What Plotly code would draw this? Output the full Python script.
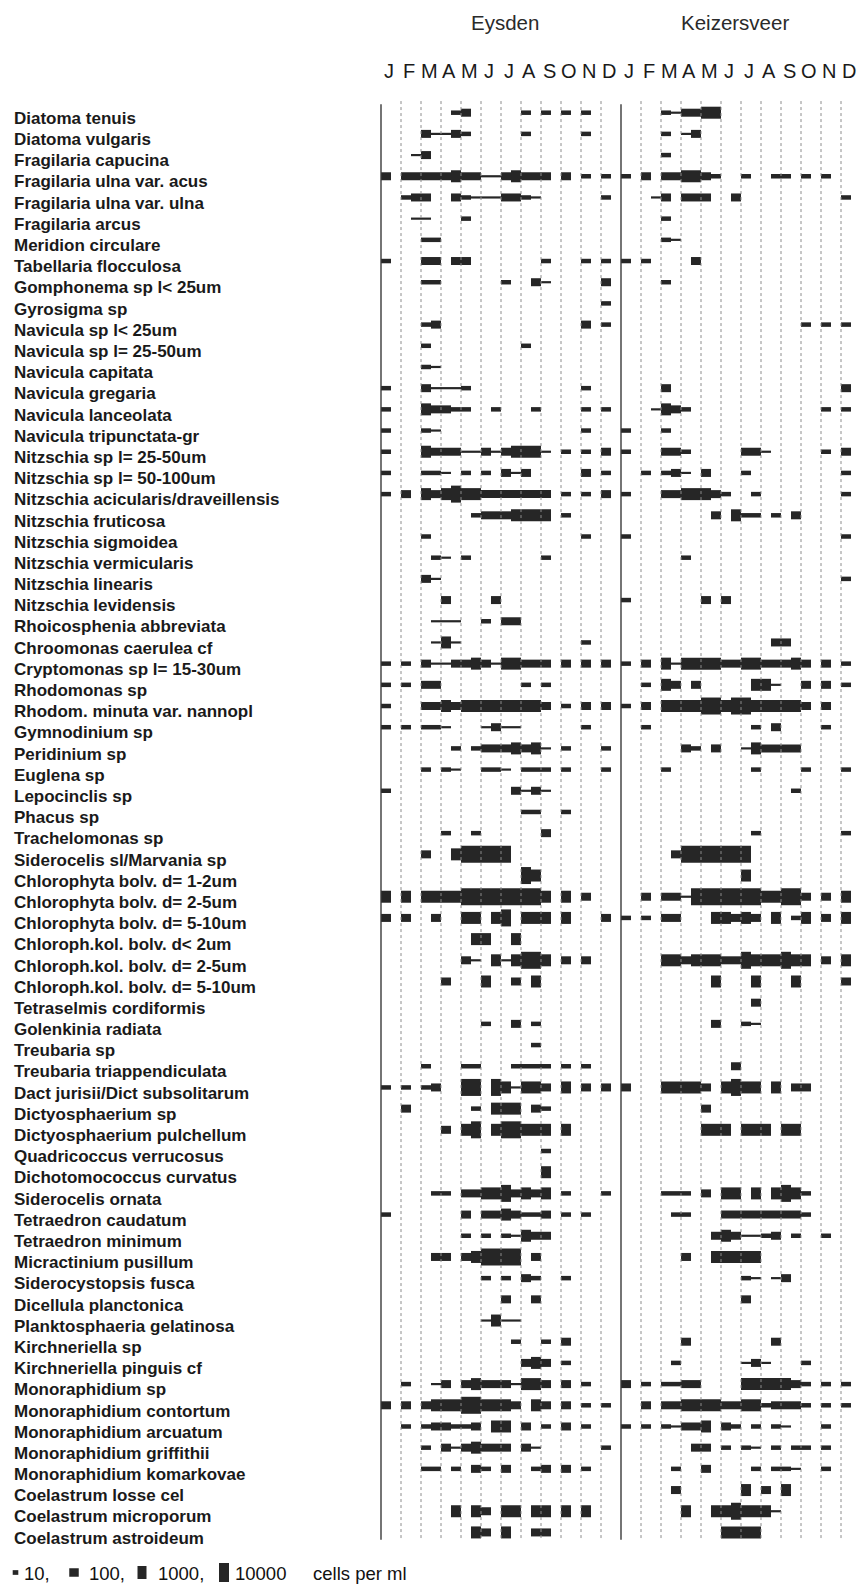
import plotly.graph_objects as go

# ---------------- data ----------------
SPECIES = [
    "Diatoma tenuis", "Diatoma vulgaris", "Fragilaria capucina", "Fragilaria ulna var. acus",
    "Fragilaria ulna var. ulna", "Fragilaria arcus", "Meridion circulare", "Tabellaria flocculosa",
    "Gomphonema sp l< 25um", "Gyrosigma sp", "Navicula sp l< 25um", "Navicula sp l= 25-50um",
    "Navicula capitata", "Navicula gregaria", "Navicula lanceolata", "Navicula tripunctata-gr",
    "Nitzschia sp l= 25-50um", "Nitzschia sp l= 50-100um", "Nitzschia acicularis/draveillensis",
    "Nitzschia fruticosa", "Nitzschia sigmoidea", "Nitzschia vermicularis", "Nitzschia linearis",
    "Nitzschia levidensis", "Rhoicosphenia abbreviata", "Chroomonas caerulea cf",
    "Cryptomonas sp l= 15-30um", "Rhodomonas sp", "Rhodom. minuta var. nannopl", "Gymnodinium sp",
    "Peridinium sp", "Euglena sp", "Lepocinclis sp", "Phacus sp", "Trachelomonas sp",
    "Siderocelis sl/Marvania sp", "Chlorophyta bolv. d= 1-2um", "Chlorophyta bolv. d= 2-5um",
    "Chlorophyta bolv. d= 5-10um", "Chloroph.kol. bolv. d< 2um", "Chloroph.kol. bolv. d= 2-5um",
    "Chloroph.kol. bolv. d= 5-10um", "Tetraselmis cordiformis", "Golenkinia radiata", "Treubaria sp",
    "Treubaria triappendiculata", "Dact jurisii/Dict subsolitarum", "Dictyosphaerium sp",
    "Dictyosphaerium pulchellum", "Quadricoccus verrucosus", "Dichotomococcus curvatus",
    "Siderocelis ornata", "Tetraedron caudatum", "Tetraedron minimum", "Micractinium pusillum",
    "Siderocystopsis fusca", "Dicellula planctonica", "Planktosphaeria gelatinosa", "Kirchneriella sp",
    "Kirchneriella pinguis cf", "Monoraphidium sp", "Monoraphidium contortum", "Monoraphidium arcuatum",
    "Monoraphidium griffithii", "Monoraphidium komarkovae", "Coelastrum losse cel",
    "Coelastrum microporum", "Coelastrum astroideum",
]
STATIONS = ["Eysden", "Keizersveer"]
MONTHS = ["J", "F", "M", "A", "M", "J", "J", "A", "S", "O", "N", "D"]
CLASS_LABELS = ["10", "100", "1000", "10000"]
UNIT_LABEL = "cells per ml"

# abundance class per half month (two characters per month, Jan..Dec)
# '.' absent, '-' trace, '1' ~10, '2' ~100, '3' ~1000, '4' ~10000 cells per ml
EYSDEN = [
    ".. .. .. .1 2. .. .. 1. 1. 1. 1. ..",
    ".. .. 2- -2 1. .. .. 1. .. .. 1. ..",
    ".. .- 2. .. .. .. .. .. .. .. .. ..",
    "2. 22 22 23 22 -- 23 22 2. 2. 1. 1.",
    ".. 12 2. .2 1- -- 22 1- .. .. .. 1.",
    ".. .- -. .. 1. .. .. .. .. .. .. ..",
    ".. .. 11 .. .. .. .. .. .. .. .. ..",
    "1. .. 22 .2 2. .. .. .. 1. .. 1. 1.",
    ".. .. 11 .. .. .. 1. .2 -. .. .. 2.",
    ".. .. .. .. .. .. .. .. .. .. .. 1.",
    ".. .. 12 .. .. .. .. .. .. .. 2. 1.",
    ".. .. 1. .. .. .. .. 1. .. .. .. ..",
    ".. .. 1- .. .. .. .. .. .. .. .. ..",
    "1. .. 2- -- 1. .. .. .. .. .. 1. ..",
    "1. .. 32 21 1. .1 .. .1 .. .. 1. 1.",
    "1. .. 1- .. .. .. .. .. .. .. 1. ..",
    "1. .. 32 22 -- 2- 23 33 -. 1. 1. 2.",
    "1. .. 11 -. 1. 1. 2- 2. .. .. 2. 1.",
    "1. 2. 32 34 33 22 22 22 2. 1. 1. 2.",
    ".. .. .. .. .1 22 23 33 3. 1. .. ..",
    ".. .. 1. .. .. .. .. .. .. .. 1. ..",
    ".. .. .1 -. 1. .. .. .. 1. .. .. ..",
    ".. .. 2- .. .. .. .. .. .. .. .. ..",
    ".. .. .. 2. .. .2 .. .. .. .. .. ..",
    ".. .. .- -- .. 1. 22 .. .. .. .. ..",
    ".. .. .- 3- .. .. .. .. .. .. 1. ..",
    "1. 1. 2- -2 23 2- 33 22 2. 2. 2. 2.",
    "1. 1. 22 .. .. .. .. 1. 1. .. .. ..",
    "1. .. 22 32 33 33 33 33 2. 1. 2. 2.",
    "1. 1. 11 -. .. -2 -- .. .. .. 1. ..",
    ".. .. .. .1 .1 22 23 23 -. 1. .. 1.",
    ".. .. 1. 1- .. 11 -. 11 1. 1. .. 1.",
    "1. .. .. .. .. .. .2 -2 -. .. .. ..",
    ".. .. .. .. .. .. .. 11 .. 1. .. ..",
    ".. .. .. 1. .1 .. .. .. 2. .. .. ..",
    ".. .. 2. .3 44 44 4. .. .. .. .. ..",
    ".. .. .. .. .. .. .. 43 .. .. .. ..",
    "3. 3. 33 33 44 44 44 44 3. 3. 2. ..",
    "2. 2. .2 .. 33 .3 4. 33 3. 3. .. 2.",
    ".. .. .. .. .3 3. .3 .. .. .. .. ..",
    ".. .. .. .. 2- .3 -3 44 3. 2. 2. ..",
    ".. .. .. 2. .. 3. .2 .3 .. .. .. ..",
    ".. .. .. .. .. .. .. .. .. .. .. ..",
    ".. .. .. .. .. 1. .2 .1 .. .. .. ..",
    ".. .. .. .. .. .. .. .1 .. .. .. ..",
    ".. .. 1. .. 11 .. .1 11 1. 1. 1. ..",
    "1. 1. 12 .. 44 .4 3- 33 2. 3. 2. 2.",
    ".. 2. .. .. .1 .3 33 .2 1. .. .. ..",
    ".. .. .. 2. 34 .3 44 33 3. 3. .. ..",
    ".. .. .. .. .. .. .. .. 1. .. .. ..",
    ".. .. .. .. .. .. .. .. 3. .. .. ..",
    ".. .. .1 1. 22 33 42 32 3. 1. .. 1.",
    "1. .. .. .. 2. 22 32 11 2. 1. 1. ..",
    ".. .. .. .. 1. 1. 1- 32 2. .. .. ..",
    ".. .. .2 2. 23 44 44 .2 .. .. .. ..",
    ".. .. .. .. .. 1. 1. 21 .. 1. .. ..",
    ".. .. .. .. .. .. 2. .2 .. .. .. ..",
    ".. .. .. .. .. -3 -- .. .. .. .. ..",
    ".. .. .. .. .. .. .1 .. 1. 2. .. ..",
    ".. .. .. .. .. .. .. 23 2. 1. .. ..",
    ".. 1. .- 2. 23 22 2- 33 2. 2. 1. ..",
    "2. 2. 23 33 44 33 32 .3 2. 2. 1. 1.",
    ".. 1. 12 21 12 .3 3. 2. 1. 2. 1. ..",
    ".. .. 1. 2- 23 22 2. 2- .. .. .. 1.",
    ".. .. 11 .1 .2 1. 2. .1 2. 2. 1. ..",
    ".. .. .. .. .. .. .. .. .. .. .. ..",
    ".. .. .. .3 .3 2. 33 .3 3. 3. 3. ..",
    ".. .. .. .. .3 2. 3. .2 2. .. .. ..",
]
KEIZERSVEER = [
    ".. .. 1- 22 33 .. .. .. .. .. .. ..",
    ".. .. 1. -2 .. .. .. .. .. .. .. ..",
    ".. .. 1. .. .. .. .. .. .. .. .. ..",
    "1. 2. 22 33 21 .. 1. .1 1. 1. 1. ..",
    ".. .- 2. 22 2. .2 .. .. .. .. .. 1.",
    ".. .. 1. .. .. .. .. .. .. .. .. ..",
    ".. .. 1- .. .. .. .. .. .. .. .. ..",
    "1. 1. .. .2 .. .. .. .. .. .. .. ..",
    ".. .. 1. .. .. .. .. .. .. .. .. ..",
    ".. .. .. .. .. .. .. .. .. .. .. ..",
    ".. .. .. .. .. .. .. .. .. 1. 1. 1.",
    ".. .. .. .. .. .. .. .. .. .. .. ..",
    ".. .. .. .. .. .. .. .. .. .. .. ..",
    ".. .. 2. .. .. .. .. .. .. .. .. 2.",
    ".. .- 32 1. .. .. .. .. .. .. 1. 1.",
    "1. .. 1. .. .. .. .. .. .. .. .. ..",
    "1. .. 22 1. .. .. 22 -. .. .. 1. 2.",
    ".. 1. 12 -. 2. .. 1. .. .. .. .. 1.",
    "1. .. 22 33 32 1. .1 .. .. .. .. 1.",
    ".. .. .. .. .2 .3 11 .1 .2 .. .. ..",
    "1. .. .. .. .. .. .. .. .. .. .. 1.",
    ".. .. .. 1. .. .. .. .. .. .. .. ..",
    ".. .. .. .. .. .. .. .. .. .. .. 1.",
    "1. .. .. .. 2. 2. .. .. .. .. .. ..",
    ".. .. .. .. .. .. .. .. .. .. .. ..",
    ".. .. .. .. .. .. .. .2 2. .. .. ..",
    "1. 2. 3- 33 33 22 33 22 23 2. 2. 1.",
    ".. 1. 32 .2 .. .. .3 3- .. 2. 2. 1.",
    "1. 2. 33 33 44 34 43 33 33 2. 2. ..",
    ".. 1. .. .. .. .. .1 .2 .. .. 1. ..",
    ".. .. .. 21 .2 .. -3 22 22 .. .. ..",
    ".. .. 1. .. .. .. .1 .. .. 1. .. 1.",
    ".. .. .. .. .. .. .. .. .1 .. .. ..",
    ".. .. .. .. .. .. .. .. .. .. .. ..",
    ".. .. .. .. .. .. .1 .. .. .. .. 1.",
    ".. .. .2 44 44 44 4. .. .. .. .. ..",
    ".. .. .. .. .. .. 3. .. .. .. .. ..",
    ".. 2. 22 -4 44 44 44 33 44 2. 2. 3.",
    "1. 1. 22 .. .3 32 32 .3 .1 3. 2. 3.",
    ".. .. .. .. .. .. .. .. .. .. .. ..",
    ".. .. 33 23 33 22 43 33 43 3. 2. 3.",
    ".. .. .. .. .3 .. .3 .. .3 .. .. 2.",
    ".. .. .. .. .. .. .2 .. .. .. .. ..",
    ".. .. .. .. .2 .. 1- .. .. .. .. ..",
    ".. .. .. .. .. .. .. .. .. .. .. ..",
    ".. .. .. .. .. .2 .. .. .. .. .. ..",
    "2. .. 33 33 2. 34 33 .3 .2 2. .. ..",
    ".. .. .. .. 2. .. .. .. .. .. .. ..",
    ".. .. .. .. 33 3. 33 3. 33 .. .. ..",
    ".. .. .. .. .. .. .. .. .. .. .. ..",
    ".. .. .. .. .. .. .. .. .. .. .. ..",
    ".. .. 11 1. 2. 33 .3 .3 43 1. .. ..",
    ".. .. .1 1. .. 22 22 22 22 1. .. ..",
    ".. .. .. .. .2 32 -- 12 .1 .. 1. ..",
    ".. .. .. 2. .3 33 33 .. .. .. .. ..",
    ".. .. .. .. .. .. 1- .- 2. .. .. ..",
    ".. .. .. .. .. .. 2. .. .. .. .. ..",
    ".. .. .. .. .. .. .. .. .. .. .. ..",
    ".. .. .. 2. .. .. .. .2 .. .. .. ..",
    ".. .. .1 .. .. .. -2 -. .. 1. .. ..",
    "2. 1. 11 22 .. .. 33 33 32 1. 1. 1.",
    ".. 2. 22 33 33 22 33 12 22 1. 1. 1.",
    "1. 1. 1- 22 3. 21 .1 .1 -. .. 1. ..",
    ".. .. .. .2 2. 1. 1- .1 .1 1. 1. ..",
    ".. .. .1 .. 2. .. .1 .1 1- .. 1. ..",
    ".. .. .2 .. .. .. 3. 2. 3. .. .. ..",
    ".. .. .. 3. .3 34 33 3- .. .. .. ..",
    ".. .. .. .. .. 33 33 .. .. .. .. ..",
]

# ---------------- geometry / style ----------------
W, H = 861, 1585
PX_PER_MONTH = 20.0
X0_PX = 381.0          # pixel column of 1 January, first station
ROW0_PX = 112.7        # pixel row of first species
ROW_PX = 21.19         # pixels per species row
THICK_PX = {"-": 2.2, "1": 4.5, "2": 8.0, "3": 12.0, "4": 17.0}
LEGEND_THICK_PX = [4.7, 8.5, 13.0, 19.0]
INK = "#262626"


def px_to_x(px):
    return (px - X0_PX) / PX_PER_MONTH


def px_to_row(py):
    return (py - ROW0_PX) / ROW_PX


# ---------------- bars ----------------
base, length, ypos, thick = [], [], [], []
for s, table in enumerate([EYSDEN, KEIZERSVEER]):
    for i, code in enumerate(table):
        bins = code.replace(" ", "")
        k = 0
        while k < len(bins):
            c = bins[k]
            if c == ".":
                k += 1
                continue
            j = k
            while j + 1 < len(bins) and bins[j + 1] == c:
                j += 1
            base.append(12 * s + 0.5 * k)
            length.append(0.5 * (j - k + 1))
            ypos.append(i)
            thick.append(THICK_PX[c] / ROW_PX)
            k = j + 1

fig = go.Figure()
fig.add_trace(go.Bar(
    orientation="h", x=length, base=base, y=ypos, width=thick,
    marker=dict(color=INK, line=dict(width=0)), hoverinfo="skip",
))

# legend symbols
leg_row = px_to_row(1572.5)
LEG_SYM_PX = [15.5, 74.0, 142.0, 224.0]
LEG_SYM_W_PX = [5.6, 9.5, 9.0, 10.0]
fig.add_trace(go.Bar(
    orientation="h",
    x=[w / PX_PER_MONTH for w in LEG_SYM_W_PX],
    base=[px_to_x(c) - w / PX_PER_MONTH / 2 for c, w in zip(LEG_SYM_PX, LEG_SYM_W_PX)],
    y=[leg_row] * 4,
    width=[t / ROW_PX for t in LEGEND_THICK_PX],
    marker=dict(color=INK, line=dict(width=0)), hoverinfo="skip",
))

# ---------------- grid lines ----------------
shapes = []
n_rows = len(SPECIES)
for s in range(len(STATIONS)):
    for m in range(12):
        xv = 12 * s + m
        if m == 0:
            shapes.append(dict(type="line", xref="x", yref="y", x0=xv, x1=xv,
                               y0=-0.4, y1=n_rows - 0.65,
                               line=dict(color="#3a3a3a", width=1.4)))
        else:
            shapes.append(dict(type="line", xref="x", yref="y", x0=xv, x1=xv,
                               y0=-0.55, y1=n_rows - 0.72,
                               line=dict(color="#8c8c8c", width=1, dash="dot")))

# ---------------- text ----------------
FONT = "Arial, Liberation Sans, sans-serif"
LABEL_FONT = "Arial Black, Arial, Liberation Sans, sans-serif"
ann = []
for i, name in enumerate(SPECIES):
    ann.append(dict(x=px_to_x(11.5), y=i + 0.27, xref="x", yref="y",
                    text="<b>" + name + "</b>",
                    showarrow=False, xanchor="left", yanchor="middle",
                    font=dict(family=FONT, size=17, color="#1a1a1a")))
STATION_CENTER_PX = [504.7, 735.0]
for s, st in enumerate(STATIONS):
    ann.append(dict(x=px_to_x(STATION_CENTER_PX[s]), y=px_to_row(22.0), xref="x", yref="y",
                    text=st, showarrow=False, xanchor="center", yanchor="middle",
                    font=dict(family=FONT, size=20.5, color="#2a2a2a")))
    for m, lab in enumerate(MONTHS):
        ann.append(dict(x=12 * s + m + 0.4, y=px_to_row(70.5), xref="x", yref="y",
                        text=lab, showarrow=False, xanchor="center", yanchor="middle",
                        font=dict(family=FONT, size=20, color="#1a1a1a")))

LEG_TEXT_PX = [22.0, 86.5, 156.0, 232.5]
for lab, px in zip(CLASS_LABELS, LEG_TEXT_PX):
    ann.append(dict(x=px_to_x(px), y=leg_row + 0.05, xref="x", yref="y",
                    text=lab + ("," if lab != CLASS_LABELS[-1] else ""),
                    showarrow=False, xanchor="left", yanchor="middle",
                    font=dict(family=FONT, size=18.5, color="#111")))
ann.append(dict(x=px_to_x(311.0), y=leg_row + 0.05, xref="x", yref="y", text=UNIT_LABEL,
                showarrow=False, xanchor="left", yanchor="middle",
                font=dict(family=FONT, size=18.5, color="#111")))

fig.update_layout(
    width=W, height=H,
    margin=dict(l=0, r=0, t=0, b=0),
    paper_bgcolor="white", plot_bgcolor="white",
    showlegend=False, barmode="overlay",
    xaxis=dict(range=[px_to_x(0), px_to_x(W)], visible=False, fixedrange=True),
    yaxis=dict(range=[px_to_row(H), px_to_row(0)], visible=False, fixedrange=True),
    shapes=shapes, annotations=ann,
)

fig.write_html(
    "out.html",
    config={"displayModeBar": False},
    post_script="document.body.style.margin='0';document.body.style.overflow='hidden';",
)
